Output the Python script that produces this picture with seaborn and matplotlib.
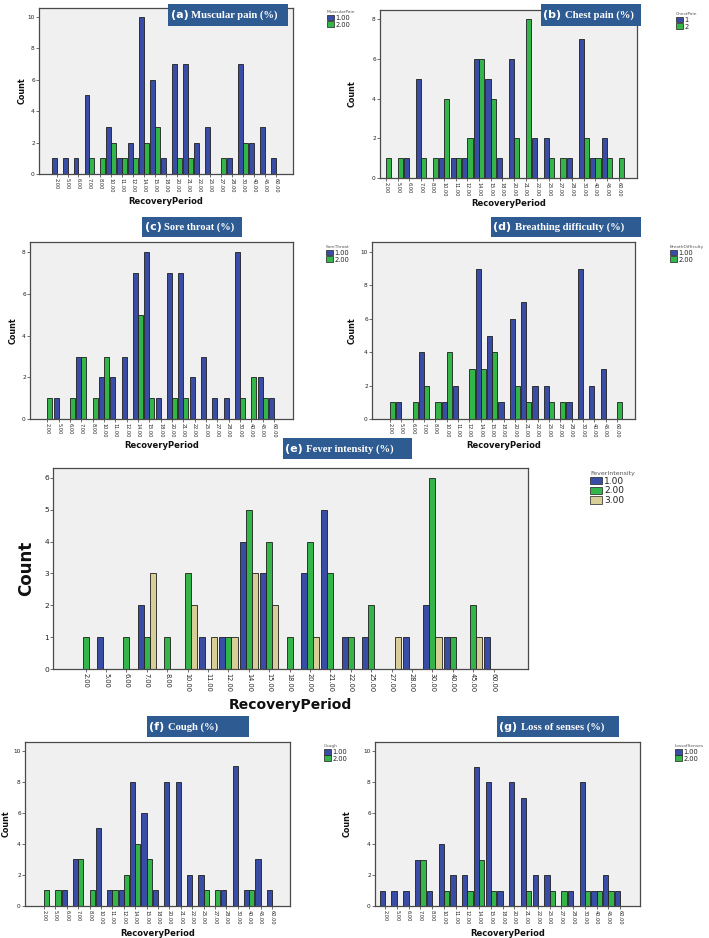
import numpy as np
import pandas as pd
import matplotlib
matplotlib.use("Agg")
import matplotlib.pyplot as plt
import seaborn as sns
from matplotlib.patches import Rectangle, Patch

sns.set_theme(style="white")
plt.rcParams["font.family"] = ["DejaVu Sans"]

W, H = 709, 938

periods = ["2.00", "5.00", "6.00", "7.00", "8.00", "10.00", "11.00", "12.00", "14.00", "15.00",
           "18.00", "20.00", "21.00", "22.00", "25.00", "27.00", "28.00", "30.00", "40.00", "45.00", "60.00"]

muscular_1 = [1, 1, 1, 5, 0, 3, 1, 2, 10, 6, 1, 7, 7, 2, 3, 0, 1, 7, 2, 3, 1]
muscular_2 = [0, 0, 0, 1, 1, 2, 1, 1, 2, 3, 0, 1, 1, 0, 0, 1, 0, 2, 0, 0, 0]
chest_1 = [0, 0, 1, 5, 0, 1, 1, 1, 6, 5, 1, 6, 0, 2, 2, 0, 1, 7, 1, 2, 0]
chest_2 = [1, 1, 0, 1, 1, 4, 1, 2, 6, 4, 0, 2, 8, 0, 1, 1, 0, 2, 1, 1, 1]
sore_1 = [0, 1, 0, 3, 0, 2, 2, 3, 7, 8, 1, 7, 7, 2, 3, 1, 1, 8, 0, 2, 1]
sore_2 = [1, 0, 1, 3, 1, 3, 0, 0, 5, 1, 0, 1, 1, 0, 0, 0, 0, 1, 2, 1, 0]
breath_1 = [0, 1, 0, 4, 0, 1, 2, 0, 9, 5, 1, 6, 7, 2, 2, 0, 1, 9, 2, 3, 0]
breath_2 = [1, 0, 1, 2, 1, 4, 0, 3, 3, 4, 0, 2, 1, 0, 1, 1, 0, 0, 0, 0, 1]
fever_1 = [0, 1, 0, 2, 0, 0, 1, 1, 4, 3, 0, 3, 5, 1, 1, 0, 1, 2, 1, 0, 1]
fever_2 = [1, 0, 1, 1, 1, 3, 0, 1, 5, 4, 1, 4, 3, 1, 2, 0, 0, 6, 1, 2, 0]
fever_3 = [0, 0, 0, 3, 0, 2, 1, 1, 3, 2, 0, 1, 0, 0, 0, 1, 0, 1, 0, 1, 0]
cough_1 = [0, 0, 1, 3, 0, 5, 1, 1, 8, 6, 1, 8, 8, 2, 2, 0, 1, 9, 1, 3, 1]
cough_2 = [1, 1, 0, 3, 1, 0, 1, 2, 4, 3, 0, 0, 0, 0, 1, 1, 0, 0, 1, 0, 0]
senses_1 = [1, 1, 1, 3, 1, 4, 2, 2, 9, 8, 1, 8, 7, 2, 2, 0, 1, 8, 1, 2, 1]
senses_2 = [0, 0, 0, 3, 0, 1, 0, 1, 3, 1, 0, 0, 1, 0, 1, 1, 0, 1, 1, 1, 0]

labels_std = ["1.00", "2.00"]
labels_chest = ["1", "2"]
labels_fever = ["1.00", "2.00", "3.00"]

BLUE = "#3A4DA6"
GREEN = "#34B54A"
TAN = "#D8CF98"
BOXC = "#2F5B93"

fig = plt.figure(figsize=(W / 100, H / 100), dpi=100)
fig.patch.set_facecolor("white")
renderer = fig.canvas.get_renderer()


def long_frame(series, labels):
    rows = []
    for lab, vals in zip(labels, series):
        for p, v in zip(periods, vals):
            if v > 0:
                rows.append({"RecoveryPeriod": p, "Count": v, "grp": lab})
    return pd.DataFrame(rows)


def panel(frame, series, labels, colors, ylim, yticks, mL, mR, title_tag, title_rest, box,
          legend_title, legend_pos, count_x, xlabel_y, big=False, tsize=7.7):
    x0, y0, x1, y1 = frame
    ax = fig.add_axes([x0 / W, 1 - y1 / H, (x1 - x0) / W, (y1 - y0) / H])
    df = long_frame(series, labels)
    sns.barplot(data=df, x="RecoveryPeriod", y="Count", hue="grp", order=periods,
                hue_order=labels, palette=colors, width=0.9, saturation=1,
                edgecolor="#1e1e1e", linewidth=0.6, ax=ax, legend=False)
    ax.set_facecolor("#F0F0F0")
    ax.set_xlim(-mL, len(periods) - 1 + mR)
    ax.set_ylim(0, ylim)
    ax.set_yticks(yticks)
    for s in ax.spines.values():
        s.set_color("#4a4a4a")
        s.set_linewidth(0.9)
    tfs = 4.8 if big else 3.6
    ax.tick_params(axis="both", length=2.2, width=0.5, color="#333333", direction="out",
                   pad=0.8, labelsize=tfs, labelcolor="#222222", bottom=True, left=True)
    ax.set_xticks(range(len(periods)))
    ax.set_xticklabels(periods, rotation=-90, va="top", ha="center")
    ax.set_yticklabels([str(t) for t in yticks], fontsize=tfs + 0.6)
    ax.set_xlabel("RecoveryPeriod", fontsize=10 if big else 6, fontweight="bold", color="#111111")
    ax.set_ylabel("Count", fontsize=12 if big else 5.8, fontweight="bold", color="#111111",
                  family=["Liberation Sans Narrow", "DejaVu Sans"])
    ax.xaxis.set_label_coords(0.5, -(xlabel_y - y1) / (y1 - y0))
    ax.yaxis.set_label_coords((count_x - x0) / (x1 - x0), 0.5)
    ax.yaxis.label.set_verticalalignment("center")
    ax.xaxis.label.set_verticalalignment("center")
    # legend
    handles = [Patch(facecolor=c, edgecolor="#1e1e1e", linewidth=0.5) for c in colors]
    lx, ly = legend_pos
    leg = ax.legend(handles, labels, title=legend_title, loc="upper left",
                    bbox_to_anchor=(lx / W, 1 - ly / H), bbox_transform=fig.transFigure,
                    frameon=False, fontsize=6.5 if big else 4.8, title_fontsize=4.5 if big else 3.2,
                    handlelength=1.3 if big else 1.0, handleheight=0.9 if big else 1.0,
                    handletextpad=0.25, labelspacing=0.08, borderpad=0, borderaxespad=0)
    leg._legend_box.align = "left"
    leg.get_title().set_color("#555555")
    for t in leg.get_texts():
        t.set_color("#222222")
    # title box
    bx0, by0, bx1, by1 = box
    fig.patches.append(Rectangle((bx0 / W, 1 - by1 / H), (bx1 - bx0) / W, (by1 - by0) / H,
                                 transform=fig.transFigure, facecolor=BOXC, edgecolor="none",
                                 zorder=5))
    ymid = 1 - ((by0 + by1) / 2 + 0.5) / H
    t1 = fig.text((bx0 + 2.5) / W, ymid, title_tag, color="white",
                  fontsize=8.0, fontweight="bold", family="DejaVu Sans", ha="left",
                  va="center", zorder=6)
    bb = t1.get_window_extent(renderer)
    fig.text((bb.x1 + 3) / W, ymid, title_rest, ha="left", va="center",
             color="white", fontsize=tsize, fontweight="bold",
             family=["Liberation Serif", "DejaVu Serif"], zorder=6)
    return ax


two = [BLUE, GREEN]
ev10 = [0, 2, 4, 6, 8, 10]
ev8 = [0, 2, 4, 6, 8]

panel((39, 8, 293, 174), [muscular_1, muscular_2], labels_std, two, 10.57, ev10, 1.6, 1.55,
      "(a)", "Muscular pain (%)", (168, 4, 288, 26), "MuscularPain", (327, 10), 22, 201)
panel((380, 10, 637, 178), [chest_1, chest_2], labels_chest, two, 8.47, ev8, 0.52, 1.58,
      "(b)", "Chest pain (%)", (541, 4, 641, 26), "ChestPain", (676, 12), 352, 204)
panel((30, 242, 293, 419), [sore_1, sore_2], labels_std, two, 8.5, ev8, 1.53, 1.68,
      "(c)", "Sore throat (%)", (142, 217, 242, 237), "SoreThroat", (326, 245), 13, 446,
      tsize=7.5)
panel((372, 242, 635, 419), [breath_1, breath_2], labels_std, two, 10.6, ev10, 1.59, 1.59,
      "(d)", "Breathing difficulty (%)", (491, 217, 641, 237), "BreathDifficulty", (670, 245), 352, 446)
panel((53, 468, 528, 669), [fever_1, fever_2, fever_3], labels_fever, [BLUE, GREEN, TAN], 6.31,
      [0, 1, 2, 3, 4, 5, 6], 1.6, 1.69, "(e)", "Fever intensity (%)", (283, 438, 412, 459),
      "FeverIntensity", (590, 471), 26, 705, big=True)
panel((25, 742, 290, 906), [cough_1, cough_2], labels_std, two, 10.58, ev10, 1.67, 1.58,
      "(f)", "Cough (%)", (147, 716, 249, 737), "Cough", (324, 744), 6, 933)
panel((375, 742, 640, 906), [senses_1, senses_2], labels_std, two, 10.6, ev10, 0.85, 1.68,
      "(g)", "Loss of senses (%)", (497, 716, 619, 737), "LossofSenses", (675, 744), 347, 933)

fig.savefig("out.png", dpi=100, facecolor=fig.get_facecolor())
